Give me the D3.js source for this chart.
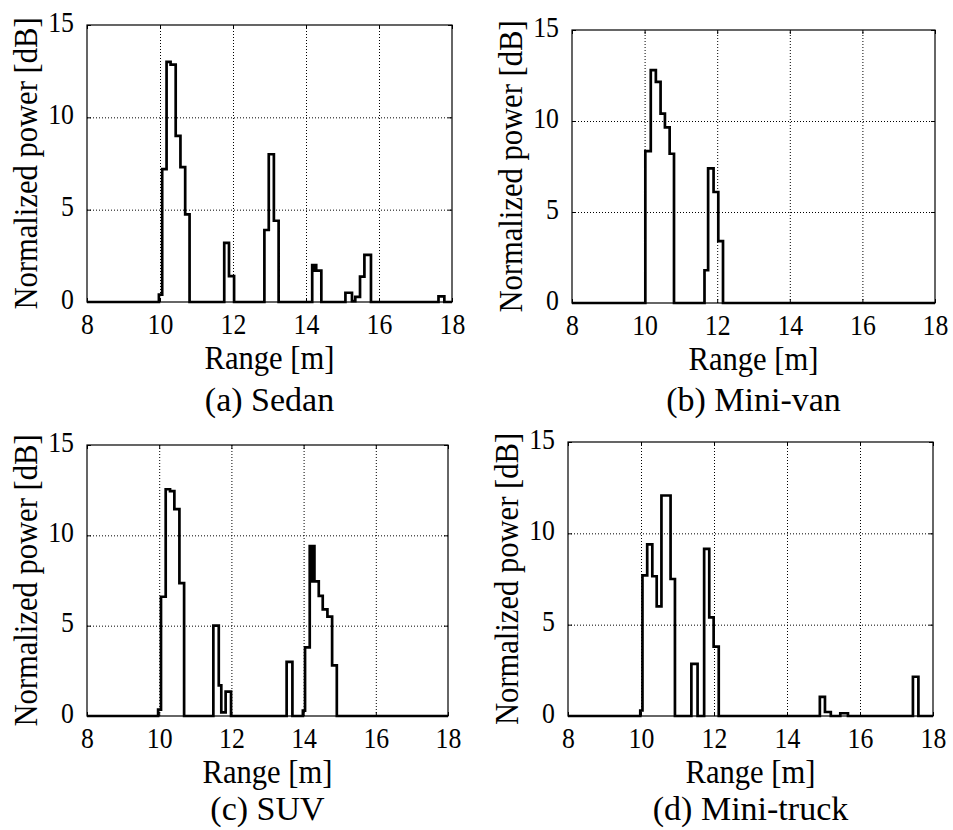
<!DOCTYPE html>
<html>
<head>
<meta charset="utf-8">
<script src="https://cdn.jsdelivr.net/npm/d3@7"></script>
<style>
  body { margin: 0; background: #fff; }
  .grid line { stroke: #000; stroke-dasharray: 1,2; stroke-width: 1; }
  .grid path { display: none; }
  .ax path { display: none; }
  .ax line { stroke: #000; stroke-width: 1; }
</style>
</head>
<body>
<div id="chart"></div>
<script>
// range bins (start of each step, m) and normalized power (dB)
var rangeA = [8, 9.97, 10.06, 10.18, 10.29, 10.43, 10.56, 10.69, 10.81, 11.76, 11.89, 12.03, 12.86, 12.98, 13.12, 13.25, 14.17, 14.2, 14.22, 14.28, 14.42, 15.08, 15.26, 15.35, 15.48, 15.6, 15.78, 17.63, 17.79, 18];
var powerA = [0, 0.4, 7.2, 13.0, 12.85, 9.0, 7.3, 4.75, 0, 3.2, 1.4, 0, 3.9, 8.0, 4.4, 0, 2.0, 1.7, 2.0, 1.7, 0, 0.5, 0.05, 0.28, 1.37, 2.55, 0, 0.3, 0, 0];

var rangeB = [8, 10.02, 10.17, 10.31, 10.44, 10.56, 10.69, 10.81, 11.65, 11.75, 11.9, 12.03, 12.16, 18];
var powerB = [0, 8.35, 12.8, 12.15, 10.4, 9.65, 8.2, 0, 1.8, 7.4, 6.1, 3.4, 0, 0];

var rangeC = [8, 9.97, 10.05, 10.18, 10.3, 10.42, 10.56, 10.69, 11.5, 11.65, 11.72, 11.84, 11.99, 13.53, 13.69, 13.98, 14.04, 14.17, 14.2, 14.22, 14.25, 14.27, 14.3, 14.42, 14.53, 14.66, 14.79, 14.92, 18];
var powerC = [0, 0.35, 6.6, 12.55, 12.45, 11.45, 7.35, 0, 5.0, 1.7, 0.2, 1.35, 0, 3.0, 0, 0.3, 3.8, 9.4, 7.45, 9.4, 7.45, 9.4, 7.45, 6.65, 5.9, 5.5, 2.8, 0, 0];

var rangeD = [8, 9.98, 10.04, 10.17, 10.31, 10.43, 10.56, 10.81, 10.93, 11.38, 11.55, 11.73, 11.87, 11.99, 12.13, 14.9, 15.04, 15.2, 15.46, 15.67, 17.45, 17.6, 18];
var powerD = [0, 0.3, 7.7, 9.4, 7.65, 6.0, 12.07, 7.5, 0, 2.85, 0, 9.15, 5.4, 3.8, 0, 1.05, 0.22, 0, 0.15, 0, 2.15, 0, 0];

var xTicks = [8, 10, 12, 14, 16, 18];
var yTicks = [0, 5, 10, 15];
var xLabel = "Range [m]";
var yLabel = "Normalized power [dB]";
var captions = ["(a) Sedan", "(b) Mini-van", "(c) SUV", "(d) Mini-truck"];

var width = 953, height = 830;
var svg = d3.select("#chart").append("svg")
  .attr("width", width)
  .attr("height", height);

var panels = [
  {r: rangeA, p: powerA, cap: captions[0], left: 87, right: 452, top: 25, bottom: 302, capY: 109},
  {r: rangeB, p: powerB, cap: captions[1], left: 572, right: 935, top: 30, bottom: 303, capY: 108},
  {r: rangeC, p: powerC, cap: captions[2], left: 87, right: 448, top: 445, bottom: 716, capY: 104},
  {r: rangeD, p: powerD, cap: captions[3], left: 568, right: 933, top: 442, bottom: 716, capY: 104}
];

var serif = "Liberation Serif";
var sx = 0.86;   // horizontal squeeze, the original Times looks condensed

panels.forEach(function(d) {
  var w = d.right - d.left, h = d.bottom - d.top;
  var x = d3.scaleLinear().domain([8, 18]).range([0, w]);
  var y = d3.scaleLinear().domain([0, 15]).range([h, 0]);
  var g = svg.append("g").attr("transform", "translate(" + d.left + "," + d.top + ")");

  // dotted grid
  g.append("g").attr("class", "grid")
    .attr("transform", "translate(0," + h + ")")
    .call(d3.axisBottom(x).tickValues([10, 12, 14, 16]).tickSize(-h).tickFormat(""));
  g.append("g").attr("class", "grid")
    .call(d3.axisLeft(y).tickValues([5, 10]).tickSize(-w).tickFormat(""));

  // frame
  g.append("rect").attr("width", w).attr("height", h)
    .style("fill", "none").style("stroke", "#000").style("stroke-width", 1.2);

  // inward ticks on all sides
  var bottomAx = g.append("g").attr("class", "ax")
    .attr("transform", "translate(0," + h + ")")
    .call(d3.axisBottom(x).tickValues(xTicks).tickSizeInner(-4).tickFormat(d3.format("d")));
  g.append("g").attr("class", "ax")
    .call(d3.axisTop(x).tickValues(xTicks).tickSizeInner(-4).tickFormat(""));
  var leftAx = g.append("g").attr("class", "ax")
    .call(d3.axisLeft(y).tickValues(yTicks).tickSizeInner(-4).tickFormat(d3.format("d")));
  g.append("g").attr("class", "ax")
    .attr("transform", "translate(" + w + ",0)")
    .call(d3.axisRight(y).tickValues(yTicks).tickSizeInner(-4).tickFormat(""));

  bottomAx.selectAll("text")
    .attr("font-family", serif).attr("font-size", 30)
    .attr("fill", "#000")
    .attr("y", 11).attr("dy", "0.7em")
    .attr("transform", "scale(" + sx + ",1)");
  leftAx.selectAll("text")
    .attr("font-family", serif).attr("font-size", 30)
    .attr("fill", "#000")
    .attr("x", -13 / sx).attr("dy", "0.2em")
    .attr("transform", "scale(" + sx + ",1)");

  // step trace
  var pts = d.r.map(function(v, i) { return [v, d.p[i]]; });
  var line = d3.line()
    .x(function(q) { return x(q[0]); })
    .y(function(q) { return y(q[1]); })
    .curve(d3.curveStepAfter);
  g.append("path").datum(pts)
    .attr("d", line)
    .style("fill", "none")
    .style("stroke", "#000")
    .style("stroke-width", 2.7)
    .style("stroke-linejoin", "miter");

  // axis titles
  g.append("text")
    .attr("transform", "translate(" + (w / 2) + "," + (h + 67) + ") scale(0.9,1)")
    .attr("text-anchor", "middle")
    .attr("font-family", serif).attr("font-size", 34)
    .text(xLabel);

  g.append("text")
    .attr("transform", "translate(-50," + (h / 2) + ") rotate(-90) scale(0.9,1)")
    .attr("text-anchor", "middle")
    .attr("font-family", serif).attr("font-size", 34)
    .text(yLabel);

  // caption
  g.append("text")
    .attr("x", w / 2).attr("y", h + d.capY)
    .attr("text-anchor", "middle")
    .attr("font-family", serif).attr("font-size", 34)
    .text(d.cap);
});
</script>
</body>
</html>
